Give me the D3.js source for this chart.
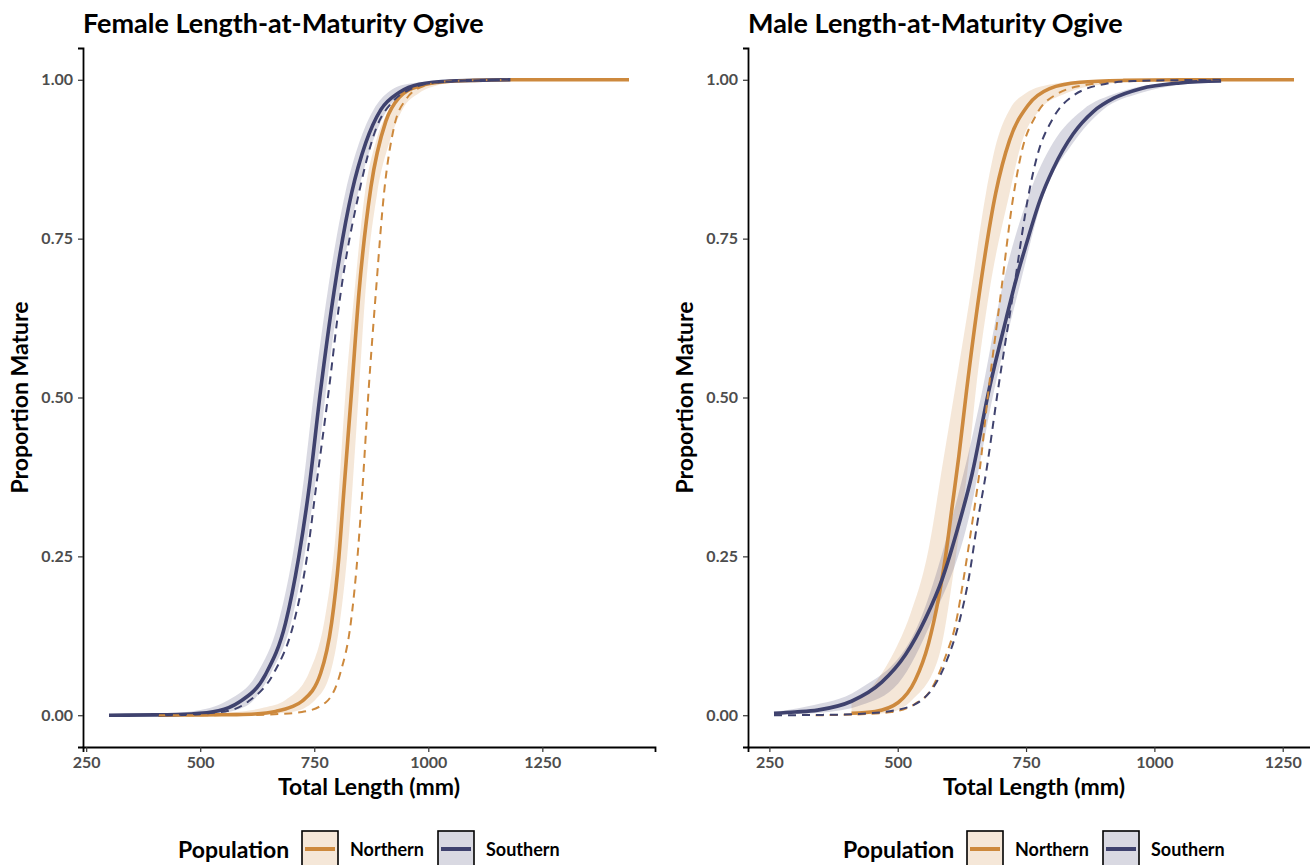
<!DOCTYPE html>
<html>
<head>
<meta charset="utf-8">
<script src="https://cdn.jsdelivr.net/npm/d3@7"></script>
<style>
  body { margin: 0; background: #fff; }
  svg { display: block; font-family: Lato, "Open Sans", sans-serif; }
</style>
</head>
<body>
<svg id="chart" width="1310" height="865"></svg>
<script>
// Values: [total length (mm), proportion mature]

// Female, Northern
const femNorthFit = [[408,0],[500,0.0005],[580,0.001],[620,0.002],[665,0.006],[700,0.013],[723,0.022],[764,0.066],[788,0.145],[804,0.249],[815,0.354],[832,0.512],[848,0.665],[874,0.83],[907,0.935],[936,0.972],[980,0.99],[1038,0.997],[1100,0.999],[1200,1],[1440,1]];
const femNorthUpper = [[408,0.0005],[500,0.002],[580,0.005],[640,0.012],[687,0.024],[738,0.066],[775,0.16],[795,0.27],[819,0.512],[840,0.68],[861,0.822],[886,0.905],[914,0.953],[950,0.985],[1000,0.996],[1100,1],[1440,1]];
const femNorthLower = [[408,0],[600,0.0002],[700,0.005],[752,0.024],[785,0.066],[805,0.14],[822,0.249],[848,0.512],[862,0.664],[888,0.822],[914,0.9],[943,0.953],[980,0.979],[1024,0.992],[1080,0.998],[1200,1],[1440,1]];
const femNorthDash = [[408,0],[600,0.0003],[672,0.002],[723,0.005],[775,0.02],[807,0.066],[830,0.145],[846,0.26],[855,0.35],[869,0.51],[885,0.665],[903,0.822],[925,0.926],[951,0.969],[990,0.99],[1050,0.998],[1180,1]];

// Female, Southern
const femSouthFit = [[300,0],[400,0.0005],[480,0.002],[540,0.007],[584,0.02],[643,0.064],[687,0.145],[716,0.249],[738,0.354],[764,0.512],[793,0.665],[832,0.822],[863,0.901],[896,0.953],[936,0.98],[980,0.993],[1050,0.998],[1180,1]];
const femSouthUpper = [[300,0.0005],[400,0.002],[480,0.006],[562,0.024],[625,0.066],[671,0.145],[702,0.249],[724,0.354],[750,0.512],[779,0.665],[818,0.822],[848,0.9],[880,0.953],[915,0.982],[960,0.994],[1050,0.999],[1180,1]];
const femSouthLower = [[300,0],[450,0.0003],[540,0.003],[600,0.014],[655,0.066],[699,0.145],[728,0.249],[750,0.354],[776,0.512],[805,0.665],[846,0.822],[877,0.9],[910,0.953],[950,0.98],[1000,0.993],[1080,0.998],[1180,1]];
const femSouthDash = [[300,0],[450,0.001],[555,0.006],[606,0.022],[661,0.066],[705,0.145],[734,0.249],[753,0.354],[782,0.512],[808,0.665],[848,0.822],[887,0.926],[920,0.964],[960,0.985],[1020,0.996],[1100,0.999],[1180,1]];

// Male, Northern
const maleNorthFit = [[410,0.003],[456,0.006],[501,0.02],[534,0.055],[560,0.113],[580,0.186],[593,0.249],[606,0.328],[619,0.407],[634,0.51],[659,0.664],[691,0.822],[718,0.905],[754,0.96],[796,0.986],[855,0.996],[940,0.999],[1050,1],[1272,1]];
const maleNorthUpper = [[410,0.02],[450,0.045],[488,0.092],[525,0.16],[557,0.249],[590,0.407],[611,0.51],[642,0.664],[672,0.822],[692,0.9],[718,0.953],[750,0.979],[800,0.993],[870,0.998],[1000,1],[1272,1]];
const maleNorthLower = [[410,0.0005],[480,0.004],[528,0.024],[580,0.092],[613,0.249],[639,0.407],[652,0.51],[678,0.664],[718,0.822],[741,0.9],[777,0.953],[829,0.979],[900,0.993],[1000,0.999],[1272,1]];
const maleNorthDash = [[340,0],[410,0.001],[488,0.005],[534,0.018],[564,0.039],[593,0.092],[613,0.144],[629,0.218],[645,0.302],[659,0.381],[676,0.505],[701,0.664],[724,0.81],[741,0.885],[770,0.945],[809,0.977],[868,0.992],[950,0.998],[1130,1]];

// Male, Southern
const maleSouthFit = [[259,0.003],[300,0.005],[344,0.008],[410,0.022],[469,0.052],[515,0.095],[554,0.152],[587,0.215],[619,0.3],[645,0.38],[676,0.505],[711,0.623],[731,0.687],[750,0.74],[777,0.81],[803,0.86],[842,0.915],[881,0.95],[921,0.971],[973,0.986],[1050,0.995],[1130,0.998]];
const maleSouthUpper = [[259,0.005],[325,0.014],[423,0.04],[534,0.132],[603,0.302],[665,0.512],[701,0.664],[757,0.822],[802,0.9],[861,0.953],[927,0.979],[1000,0.993],[1130,0.999]];
const maleSouthLower = [[259,0.001],[350,0.004],[429,0.016],[501,0.05],[567,0.15],[636,0.302],[688,0.512],[734,0.664],[786,0.822],[841,0.9],[900,0.953],[973,0.979],[1050,0.992],[1130,0.997]];
const maleSouthDash = [[259,0],[350,0.0005],[423,0.002],[508,0.01],[560,0.034],[593,0.081],[619,0.144],[639,0.218],[655,0.302],[672,0.381],[695,0.51],[727,0.675],[754,0.815],[770,0.875],[803,0.94],[842,0.975],[908,0.994],[959,0.998],[1130,1]];

const populations = ['Northern', 'Southern'];
const popColors = ['#CD893D', '#3F426E'];
const panelTitles = ['Female Length-at-Maturity Ogive', 'Male Length-at-Maturity Ogive'];
const xTicks = [250, 500, 750, 1000, 1250];
const yTicks = [0, 0.25, 0.5, 0.75, 1];

const panels = [
  { title: panelTitles[0], left: 83,
    groups: [
      { fit: femNorthFit, upper: femNorthUpper, lower: femNorthLower, dash: femNorthDash },
      { fit: femSouthFit, upper: femSouthUpper, lower: femSouthLower, dash: femSouthDash }
    ] },
  { title: panelTitles[1], left: 748,
    groups: [
      { fit: maleNorthFit, upper: maleNorthUpper, lower: maleNorthLower, dash: maleNorthDash },
      { fit: maleSouthFit, upper: maleSouthUpper, lower: maleSouthLower, dash: maleSouthDash }
    ] }
];

const svg = d3.select('#chart');
const panelWidth = 572;
const plotTop = 48, plotBottom = 747;

function drawPanel(panel) {
  const g = svg.append('g');

  // ggplot style 5% expansion around the data
  const allX = panel.groups.flatMap(gr => [...gr.fit, ...gr.dash, ...gr.upper, ...gr.lower].map(d => d[0]));
  const ext = d3.extent(allX);
  const pad = (ext[1] - ext[0]) * 0.05;

  const x = d3.scaleLinear()
    .domain([ext[0] - pad, ext[1] + pad])
    .range([panel.left, panel.left + panelWidth]);
  const y = d3.scaleLinear()
    .domain([-0.05, 1.05])
    .range([plotBottom, plotTop]);

  const line = d3.line()
    .x(d => x(d[0]))
    .y(d => y(d[1]))
    .curve(d3.curveMonotoneX);

  // confidence ribbons
  panel.groups.forEach((gr, i) => {
    const back = gr.lower.slice().reverse();
    const path = line(gr.upper) + 'L' + line(back).slice(1) + 'Z';
    g.append('path')
      .attr('d', path)
      .attr('fill', popColors[i])
      .attr('fill-opacity', 0.2)
      .attr('stroke', 'none');
  });

  // fitted ogives
  panel.groups.forEach((gr, i) => {
    g.append('path')
      .attr('d', line(gr.fit))
      .attr('fill', 'none')
      .attr('stroke', popColors[i])
      .attr('stroke-width', 3.6)
      .attr('stroke-linecap', 'butt');
  });

  // dashed reference curves
  panel.groups.forEach((gr, i) => {
    g.append('path')
      .attr('d', line(gr.dash))
      .attr('fill', 'none')
      .attr('stroke', popColors[i])
      .attr('stroke-width', 2)
      .attr('stroke-dasharray', '8,6');
  });

  // axes
  const xAxis = g.append('g')
    .attr('transform', `translate(0,${plotBottom})`)
    .call(d3.axisBottom(x).tickValues(xTicks).tickFormat(d3.format('d')).tickSizeOuter(0).tickSize(5).tickPadding(5));
  const yAxis = g.append('g')
    .attr('transform', `translate(${panel.left},0)`)
    .call(d3.axisLeft(y).tickValues(yTicks).tickFormat(d3.format('.2f')).tickSizeOuter(0).tickSize(5).tickPadding(5));

  [xAxis, yAxis].forEach(ax => {
    ax.select('.domain').attr('stroke', '#000').attr('stroke-width', 1.8);
    ax.selectAll('.tick line').attr('stroke', '#333').attr('stroke-width', 1.2);
    ax.selectAll('.tick text')
      .attr('fill', '#4D4D4D')
      .style('font-size', '16px')
      .style('font-weight', 'bold')
      .style('font-family', 'Lato, "Open Sans", sans-serif');
  });

  // titles
  g.append('text')
    .attr('x', panel.left)
    .attr('y', 33)
    .style('font-size', '27px')
    .style('font-weight', 'bold')
    .text(panel.title);

  const cx = panel.left + panelWidth / 2;
  g.append('text')
    .attr('x', cx)
    .attr('y', 795)
    .attr('text-anchor', 'middle')
    .style('font-size', '23px')
    .style('font-weight', 'bold')
    .text('Total Length (mm)');

  g.append('text')
    .attr('transform', `translate(${panel.left - 55},${y(0.5)}) rotate(-90)`)
    .attr('text-anchor', 'middle')
    .style('font-size', '23px')
    .style('font-weight', 'bold')
    .text('Proportion Mature');

  // legend
  const lg = g.append('g').attr('transform', `translate(${cx - 191},0)`);
  lg.append('text')
    .attr('x', 0)
    .attr('y', 858)
    .style('font-size', '23px')
    .style('font-weight', 'bold')
    .text('Population');

  const keyX = [124, 260];
  populations.forEach((name, i) => {
    lg.append('rect')
      .attr('x', keyX[i])
      .attr('y', 831)
      .attr('width', 36)
      .attr('height', 40)
      .attr('fill', popColors[i])
      .attr('fill-opacity', 0.2)
      .attr('stroke', '#000')
      .attr('stroke-width', 1.6);
    lg.append('line')
      .attr('x1', keyX[i] + 3)
      .attr('x2', keyX[i] + 33)
      .attr('y1', 849)
      .attr('y2', 849)
      .attr('stroke', popColors[i])
      .attr('stroke-width', 4);
    lg.append('text')
      .attr('x', keyX[i] + 48)
      .attr('y', 856)
      .style('font-size', '18px')
      .style('font-weight', 'bold')
      .text(name);
  });
}

panels.forEach(drawPanel);
</script>
</body>
</html>
